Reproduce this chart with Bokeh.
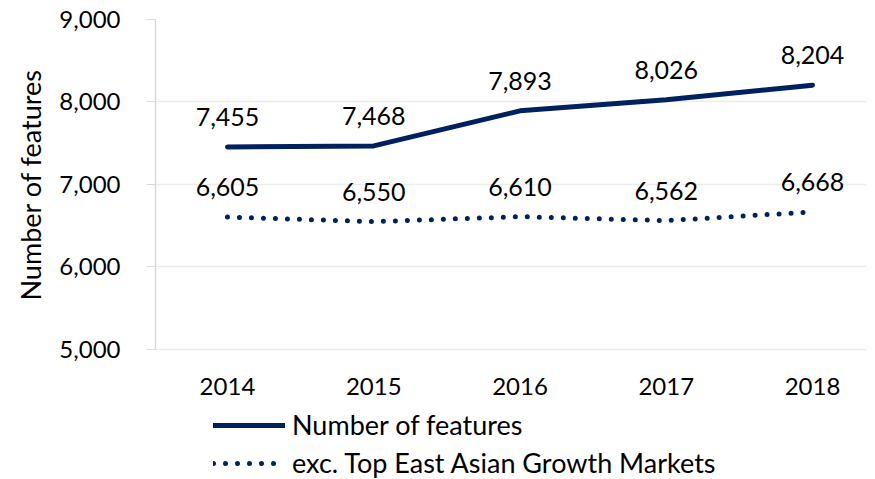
from bokeh.plotting import figure
from bokeh.models import Range1d, FixedTicker, NumeralTickFormatter, Legend, LegendItem, ColumnDataSource, Title
from bokeh.core.properties import value
from bokeh.embed import file_html
from bokeh.resources import INLINE

years = ["2014", "2015", "2016", "2017", "2018"]
features = [7455, 7468, 7893, 8026, 8204]
exc_east_asia = [6605, 6550, 6610, 6562, 6668]
series_names = ["Number of features", "exc. Top East Asian Growth Markets"]
y_ticks = [5000, 6000, 7000, 8000, 9000]
y_title = "Number of features"

FONT = "Lato"
NAVY = "#002060"
NUM_SIZE = "25px"
TICK_SIZE = "24px"
TXT_SIZE = "27px"
xi = list(range(len(years)))
y_base = y_ticks[0]

src = ColumnDataSource(dict(
    x=xi, f=features, e=exc_east_asia,
    fl=[f"{v:,}" for v in features], el=[f"{v:,}" for v in exc_east_asia],
    yr=years, base=[y_base] * len(years),
))

# frame spans 19..479 px; 5000..9000 occupies the top 330 px
p = figure(width=875, height=479, output_backend="svg", toolbar_location=None,
           x_range=Range1d(-0.492, 4.369), y_range=Range1d(3424.24, 9000),
           min_border_top=19, min_border_left=155, min_border_right=9, min_border_bottom=0)
p.outline_line_color = None

r1 = p.line("x", "f", source=src, line_color=NAVY, line_width=5, line_cap="round")
r2 = p.line("x", "e", source=src, line_color=NAVY, line_width=5, line_dash="0 12", line_cap="round")

for col in ("fl", "el"):
    p.text("x", "f" if col == "fl" else "e", text=col, source=src, y_offset=-30,
           text_align="center", text_baseline="middle", text_font=value(FONT),
           text_font_size=NUM_SIZE, text_color="#000000")

# category labels under the baseline
p.text("x", "base", text="yr", source=src, y_offset=37,
       text_align="center", text_baseline="middle", text_font=value(FONT),
       text_font_size=TICK_SIZE, text_color="#000000")

p.xaxis.visible = False
p.xgrid.grid_line_color = None
p.ygrid.ticker = FixedTicker(ticks=y_ticks)
p.ygrid.grid_line_color = "#ececec"
p.ygrid.grid_line_width = 1.5
p.yaxis.ticker = FixedTicker(ticks=y_ticks)
p.yaxis.bounds = (y_ticks[0], y_ticks[-1])
p.yaxis.formatter = NumeralTickFormatter(format="0,0")
p.yaxis.axis_line_color = "#d9d9d9"
p.yaxis.axis_line_width = 1.5
p.yaxis.major_tick_line_color = "#d9d9d9"
p.yaxis.major_tick_out = 9
p.yaxis.major_tick_in = 0
p.yaxis.minor_tick_line_color = None
p.yaxis.major_label_standoff = 26
p.yaxis.major_label_text_font = FONT
p.yaxis.major_label_text_font_size = TICK_SIZE
p.yaxis.major_label_text_color = "#000000"

# axis title placed along the 5,000-9,000 span (frame extends lower)
p.add_layout(Title(text=y_title, align="left", offset=179, standoff=20,
                   text_font=FONT, text_font_size=TXT_SIZE, text_font_style="normal",
                   text_color="#000000"), "left")

legend = Legend(items=[LegendItem(label=series_names[0], renderers=[r1]),
                       LegendItem(label=series_names[1], renderers=[r2])],
                location=(58, 0), orientation="vertical",
                margin=0, padding=0, spacing=5, glyph_height=12, label_height=12,
                glyph_width=72, label_standoff=7,
                label_text_font=FONT, label_text_font_size=TXT_SIZE, label_text_color="#000000",
                background_fill_alpha=0, border_line_color=None)
p.add_layout(legend, "center")

open("out.html", "w").write(file_html(p, INLINE))
